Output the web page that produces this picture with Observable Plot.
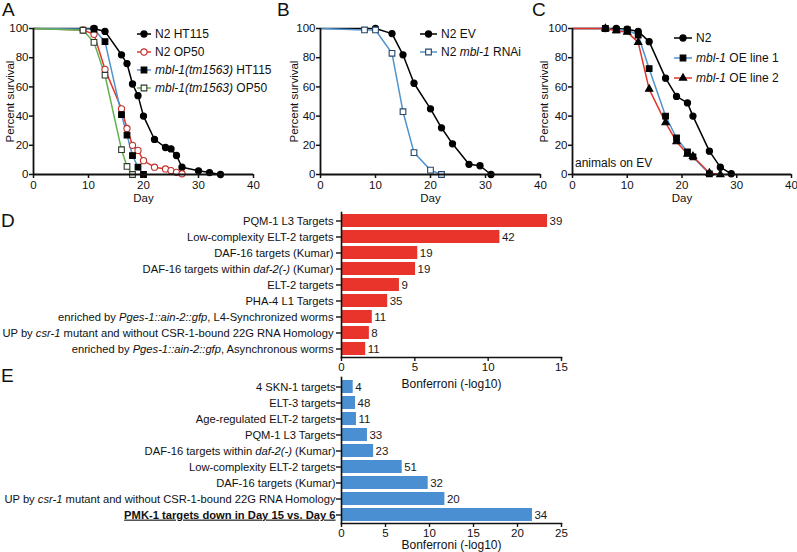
<!DOCTYPE html>
<html><head><meta charset="utf-8">
<script src="https://cdn.jsdelivr.net/npm/d3@7"></script>
<script src="https://cdn.jsdelivr.net/npm/@observablehq/plot@0.6"></script>
<style>
body{margin:0;background:#fff;}
#fig{position:relative;width:797px;height:552px;overflow:hidden;background:#fff;font-family:"Liberation Sans",Arial,Helvetica,sans-serif;color:#111;}
.letter{position:absolute;font-size:19px;line-height:1.1;color:#111;}
.legend{position:absolute;display:flex;align-items:center;height:16px;font-size:12px;white-space:nowrap;color:#111;}
.note{position:absolute;font-size:12px;white-space:nowrap;color:#111;line-height:1;}
</style></head><body><div id="fig"></div>
<script>
// ---------- data ----------
const pctTicks = [0, 20, 40, 60, 80, 100];
const dayTicks = [0, 10, 20, 30, 40];

// Panel A: [day, percent survival]
const aN2HT115 = [[0,100],[11,100],[13,98],[16,82],[17,76],[18,62],[19,54],[20,40],[22,24],[24,18.5],[25,17.5],[26,13],[27,5],[30,2.5],[32,1.3],[34,0]];
const aN2OP50 = [[0,100],[9,99],[11,96],[13,72],[16,45],[17,31.5],[18,20],[19,16.5],[20,9.5],[22,5],[24,3.8],[25,2.7],[26,1.5],[27,0.5]];
const aMblHT115 = [[0,100],[11,99.5],[13,91],[16,41],[17,27],[18,13],[19,5],[20,0]];
const aMblOP50 = [[0,100],[9,98.8],[11,90.5],[13,68],[16,17],[17,5.5],[18,0]];

// Panel B
const bN2EV = [[0,100],[10,100],[13,96.5],[15,82],[17,62.5],[20,45],[22,32],[24,21],[27,7],[29,6],[31,0]];
const bMblRNAi = [[0,100],[8,99],[10,99],[13,83],[15,43],[17,15],[20,3],[22,0]];

// Panel C
const cN2 = [[0,100],[6,100],[8,100],[10,99.5],[12,98],[14,91],[17,66],[19,53.5],[21,49],[22,40],[25,16],[27,5],[29,0.5]];
const cOE1 = [[0,100],[6,100],[8,99],[10,99],[12,95.5],[14,72.5],[17,40],[19,25],[21,15.5],[22,12],[25,0.5]];
const cOE2 = [[0,100],[6,100],[8,98.5],[10,97.5],[12,90.5],[14,58.5],[17,35.5],[19,22.5],[21,14],[22,12.5],[25,1],[27,0]];

// Panel D
const dCategories = ["PQM-1 L3 Targets", "Low-complexity ELT-2 targets", "DAF-16 targets (Kumar)", "DAF-16 targets within *daf-2(-)* (Kumar)", "ELT-2 targets", "PHA-4 L1 Targets", "enriched by *Pges-1::ain-2::gfp*, L4-Synchronized worms", "UP by *csr-1* mutant and without CSR-1-bound 22G RNA Homology", "enriched by *Pges-1::ain-2::gfp*, Asynchronous worms"];
const dValues = [14.05, 10.8, 5.2, 5.05, 3.95, 3.15, 2.1, 1.9, 1.65];
const dCounts = [39, 42, 19, 19, 9, 35, 11, 8, 11];
const dTicks = [0, 5, 10, 15];

// Panel E
const eCategories = ["4 SKN-1 targets", "ELT-3 targets", "Age-regulated ELT-2 targets", "PQM-1 L3 Targets", "DAF-16 targets within *daf-2(-)* (Kumar)", "Low-complexity ELT-2 targets", "DAF-16 targets (Kumar)", "UP by *csr-1* mutant and without CSR-1-bound 22G RNA Homology", "**PMK-1 targets down in Day 15 vs. Day 6**"];
const eValues = [1.33, 1.6, 1.7, 2.95, 3.65, 6.9, 9.85, 11.75, 21.7];
const eCounts = [4, 48, 11, 33, 23, 51, 32, 20, 34];
const eTicks = [0, 5, 10, 15, 20, 25];

// ---------- styles ----------
const RED = "#e2362c", BLUE = "#4f93cf", GREEN = "#62b34f";
const FONT = '"Liberation Sans", Arial, Helvetica, sans-serif';
const fig = document.getElementById("fig");

const seriesA = [
  {data: aN2HT115, label: "N2 HT115", color: "#000", symbol: "circle", fill: "#000", stroke: "#000"},
  {data: aN2OP50, label: "N2 OP50", color: RED, symbol: "circle", fill: "#fff", stroke: "#c0302a"},
  {data: aMblHT115, label: "*mbl-1(tm1563)* HT115", color: BLUE, symbol: "square", fill: "#000", stroke: "#000"},
  {data: aMblOP50, label: "*mbl-1(tm1563)* OP50", color: GREEN, symbol: "square", fill: "#fff", stroke: "#2d3a2a"}
];
const seriesB = [
  {data: bN2EV, label: "N2 EV", color: "#000", symbol: "circle", fill: "#000", stroke: "#000"},
  {data: bMblRNAi, label: "N2 *mbl-1* RNAi", color: BLUE, symbol: "square", fill: "#fff", stroke: "#24466a"}
];
const seriesC = [
  {data: cN2, label: "N2", color: "#000", symbol: "circle", fill: "#000", stroke: "#000"},
  {data: cOE1, label: "*mbl-1* OE line 1", color: BLUE, symbol: "square", fill: "#000", stroke: "#000"},
  {data: cOE2, label: "*mbl-1* OE line 2", color: RED, symbol: "triangle", fill: "#000", stroke: "#000"}
];

function parseMarkup(s) {
  return s.split(/(\*\*[^*]+\*\*|\*[^*]+\*)/).filter(p => p.length).map(p => {
    if (p.startsWith("**")) return {text: p.slice(2, -2), bold: true};
    if (p.startsWith("*")) return {text: p.slice(1, -1), italic: true};
    return {text: p};
  });
}
const plain = s => s.replace(/\*/g, "");
const symR = s => (s === "circle" ? 3.1 : s === "square" ? 3.2 : 2.7);
const symArea = s => symR(s) ** 2 * Math.PI;

function place(node, left, top) {
  node.style.position = "absolute";
  node.style.left = left + "px";
  node.style.top = top + "px";
  fig.appendChild(node);
}

function survivalPlot(series, {left, width, marginLeft, marginRight, yLabelOffset}) {
  const marks = [];
  for (const s of series) {
    marks.push(Plot.line(s.data.map(([day, pct]) => ({day, pct})), {x: "day", y: "pct", stroke: s.color, strokeWidth: 1.5}));
  }
  for (const s of series) {
    marks.push(Plot.dot(s.data.filter(d => d[0] > 0).map(([day, pct]) => ({day, pct})),
      {x: "day", y: "pct", symbol: s.symbol, r: symR(s.symbol), fill: s.fill, stroke: s.stroke, strokeWidth: 1.1}));
  }
  marks.push(
    Plot.ruleX([0], {strokeWidth: 1.8}),
    Plot.ruleY([0], {strokeWidth: 1.8}),
    Plot.axisX({ticks: dayTicks, tickSize: 4, tickPadding: 2, strokeWidth: 1.5, label: "Day", labelAnchor: "center", labelArrow: "none", labelOffset: 27}),
    Plot.axisY({ticks: pctTicks, tickSize: 4, tickPadding: 1, strokeWidth: 1.5, label: "Percent survival", labelAnchor: "center", labelArrow: "none", labelOffset: yLabelOffset})
  );
  const svg = Plot.plot({
    width, height: 205, marginLeft, marginRight, marginTop: 28, marginBottom: 31,
    style: {fontSize: "11.5px", fontFamily: FONT, color: "#111", background: "transparent", overflow: "visible"},
    x: {domain: [0, 40]},
    y: {domain: [0, 100]},
    marks
  });
  place(svg, left, 0);
}

function addLegend(series, {left, centers, lineLen}) {
  series.forEach((s, i) => {
    const row = document.createElement("div");
    row.className = "legend";
    row.style.left = left + "px";
    row.style.top = (centers[i] - 8) + "px";
    const sv = d3.create("svg").attr("width", lineLen).attr("height", 16).style("overflow", "visible");
    sv.append("line").attr("x1", 0).attr("x2", lineLen).attr("y1", 8).attr("y2", 8).attr("stroke", s.color).attr("stroke-width", 1.5);
    const type = s.symbol === "circle" ? d3.symbolCircle : s.symbol === "square" ? d3.symbolSquare : d3.symbolTriangle;
    sv.append("path").attr("transform", `translate(${lineLen / 2},8)`).attr("d", d3.symbol(type, symArea(s.symbol))())
      .attr("fill", s.fill).attr("stroke", s.stroke).attr("stroke-width", 1.1);
    row.appendChild(sv.node());
    const span = document.createElement("span");
    span.style.marginLeft = "4px";
    for (const p of parseMarkup(s.label)) {
      const e = document.createElement("span");
      e.textContent = p.text;
      if (p.italic) e.style.fontStyle = "italic";
      span.appendChild(e);
    }
    row.appendChild(span);
    fig.appendChild(row);
  });
}

function barPlot(cats, values, counts, ticks, color, {top, height, marginBottom, labelOffset, tickPadding}) {
  const data = cats.map((c, i) => ({cat: c, value: values[i], count: counts[i]}));
  const svg = Plot.plot({
    width: 570, height, marginLeft: 341, marginRight: 9, marginTop: 7, marginBottom,
    style: {fontSize: "11.2px", fontFamily: FONT, color: "#111", background: "transparent", overflow: "visible"},
    x: {domain: [ticks[0], ticks[ticks.length - 1]]},
    y: {domain: cats, paddingInner: 0.19, paddingOuter: 0.095},
    marks: [
      Plot.barX(data, {x: "value", y: "cat", fill: color}),
      Plot.text(data, {x: "value", y: "cat", text: d => String(d.count), textAnchor: "start", dx: 2, fontSize: 11.5, fill: "#1a1a1a"}),
      Plot.frame({anchor: "left", strokeWidth: 1.6}),
      Plot.frame({anchor: "bottom", strokeWidth: 1.6}),
      Plot.axisY({tickSize: 5, tickPadding, strokeWidth: 1.4, tickFormat: plain, label: null}),
      Plot.axisX({ticks, tickSize: 4, tickPadding: 1, strokeWidth: 1.4, fontSize: 11.5, label: null}),
      Plot.axisX({ticks: [], tickSize: 0, fontSize: 12, label: "Bonferroni (-log10)", labelAnchor: "center", labelArrow: "none", labelOffset})
    ]
  });
  // rich text (italic / bold-underline) in category labels
  const map = new Map(cats.map(c => [plain(c), c]));
  svg.querySelectorAll("text").forEach(t => {
    const m = map.get(t.textContent);
    if (!m || m === plain(m)) return;
    while (t.firstChild) t.removeChild(t.firstChild);
    for (const p of parseMarkup(m)) {
      const ts = document.createElementNS("http://www.w3.org/2000/svg", "tspan");
      ts.textContent = p.text;
      if (p.italic) ts.setAttribute("font-style", "italic");
      if (p.bold) { ts.setAttribute("font-weight", "bold"); ts.setAttribute("text-decoration", "underline"); }
      t.appendChild(ts);
    }
  });
  place(svg, 0, top);
}

// ---------- panels ----------
survivalPlot(seriesA, {left: 0, width: 265, marginLeft: 33, marginRight: 12, yLabelOffset: 28});
survivalPlot(seriesB, {left: 265, width: 285, marginLeft: 55, marginRight: 10, yLabelOffset: 31});
survivalPlot(seriesC, {left: 530, width: 267, marginLeft: 42, marginRight: 6, yLabelOffset: 33});

addLegend(seriesA, {left: 137, centers: [34, 52, 70, 88], lineLen: 14});
addLegend(seriesB, {left: 420, centers: [34, 52], lineLen: 17});
addLegend(seriesC, {left: 674, centers: [38, 58, 78], lineLen: 18});

const note = document.createElement("div");
note.className = "note";
note.textContent = "animals on EV";
place(note, 575, 157);

barPlot(dCategories, dValues, dCounts, dTicks, "#e8342b", {top: 205, height: 190, marginBottom: 38, labelOffset: 30, tickPadding: 3});
barPlot(eCategories, eValues, eCounts, eTicks, "#4a8fd2", {top: 370, height: 182, marginBottom: 29, labelOffset: 25, tickPadding: 1});

[["A", 2, 0], ["B", 277, 0], ["C", 532, 0], ["D", 1, 211], ["E", 1, 366]].forEach(([t, x, y]) => {
  const d = document.createElement("div");
  d.className = "letter";
  d.textContent = t;
  place(d, x, y);
});
</script></body></html>
